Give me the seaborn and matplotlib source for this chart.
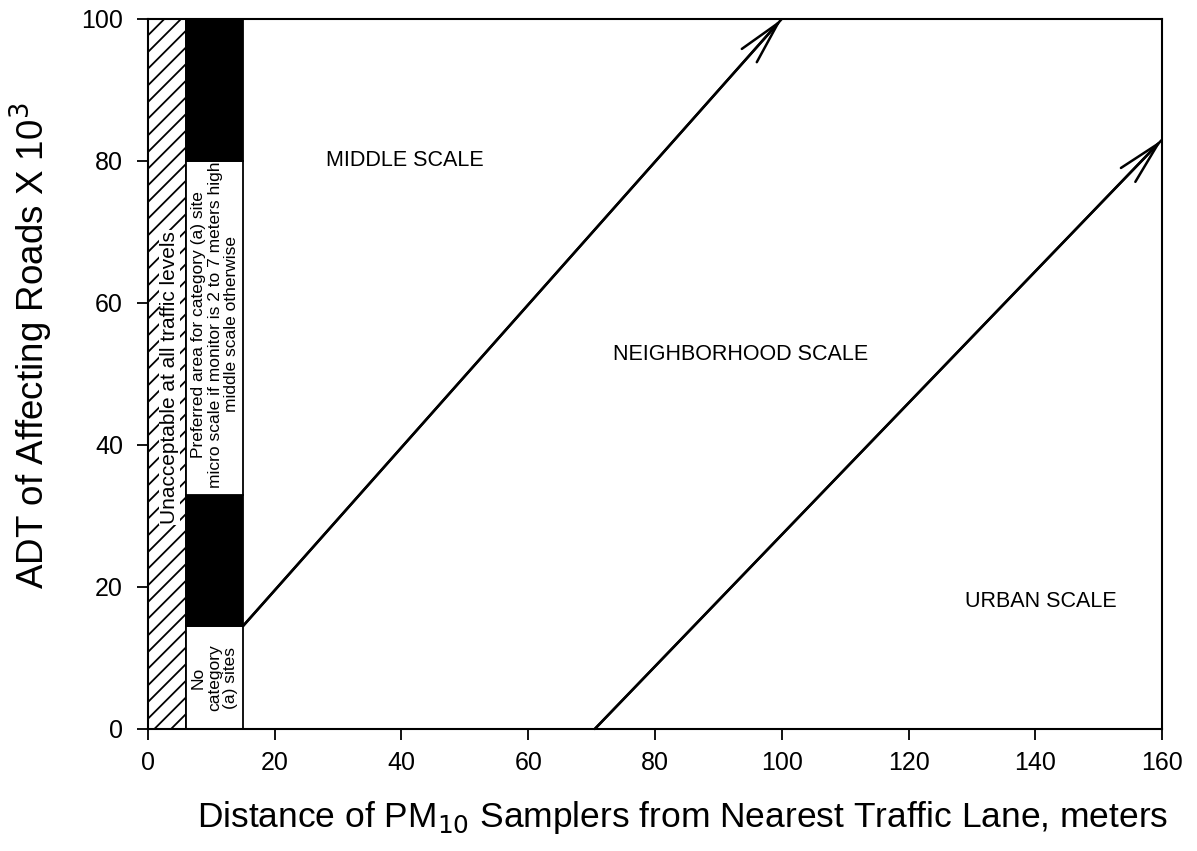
import matplotlib
matplotlib.use("Agg")
import matplotlib.pyplot as plt
import seaborn as sns
import pandas as pd

# Distances (m) and ADT (thousands) defining the siting zones
hatch_zone_x = [0]
hatch_zone_w = [6]
hatch_zone_top = [100]

column_x = 6
column_w = 9
column_bottoms = [0, 14.5, 33, 80]
column_heights = [14.5, 18.5, 47, 20]
column_colors = ["white", "black", "white", "black"]

# Boundary between middle and neighborhood scale
middle_bound_x = [15, 100]
middle_bound_y = [14.5, 100]
# Boundary between neighborhood and urban scale
urban_bound_x = [70.5, 160]
urban_bound_y = [0, 83]

x_ticks = [0, 20, 40, 60, 80, 100, 120, 140, 160]
y_ticks = [0, 20, 40, 60, 80, 100]

sns.set_theme(style="ticks")
plt.rcParams["font.family"] = ["Liberation Sans", "DejaVu Sans"]
plt.rcParams["hatch.linewidth"] = 1.3
plt.rcParams["text.color"] = "black"
plt.rcParams["axes.labelcolor"] = "black"

fig = plt.figure(figsize=(11.97, 8.51), dpi=100)
ax = fig.add_axes([0.1236, 0.1434, 0.8472, 0.8343])

# Zone too close to the road: hatched
ax.bar(hatch_zone_x, hatch_zone_top, width=hatch_zone_w, align="edge",
       fill=False, hatch="//", edgecolor="black", linewidth=1.3)

# Category (a) column
ax.bar([column_x] * len(column_heights), column_heights, width=column_w,
       bottom=column_bottoms, align="edge", color=column_colors,
       edgecolor="black", linewidth=1.3)

bounds = pd.DataFrame({
    "x": middle_bound_x + urban_bound_x,
    "y": middle_bound_y + urban_bound_y,
    "bound": ["middle"] * 2 + ["urban"] * 2,
})
sns.lineplot(data=bounds, x="x", y="y", units="bound", estimator=None,
             color="black", linewidth=1.8, ax=ax, legend=False)

for xs, ys in [(middle_bound_x, middle_bound_y), (urban_bound_x, urban_bound_y)]:
    ax.annotate("", xy=(xs[1], ys[1]), xytext=(xs[0], ys[0]),
                arrowprops=dict(arrowstyle="->,head_length=2.6,head_width=0.6",
                                color="black", lw=1.8, shrinkA=0, shrinkB=0))

ax.set_xlim(0, 160)
ax.set_ylim(0, 100)
ax.set_xticks(x_ticks)
ax.set_yticks(y_ticks)
ax.tick_params(axis="both", direction="out", length=8, width=1.3, colors="black",
               labelsize=18)
ax.tick_params(axis="y", pad=10)
ax.tick_params(axis="x", pad=8)
for s in ax.spines.values():
    s.set_linewidth(1.5)
    s.set_color("black")

ax.set_xlabel("Distance of PM$_{10}$ Samplers from Nearest Traffic Lane, meters",
              fontsize=25.5, color="black")
ax.xaxis.set_label_coords(0.527, -0.099)
ax.set_ylabel("ADT of Affecting Roads X 10$^{3}$", fontsize=26.5, color="black")
ax.yaxis.set_label_coords(-0.092, 0.54)

ax.text(40.5, 80, "MIDDLE SCALE", fontsize=15.5, ha="center", va="center",
        color="black")
ax.text(93.5, 52.7, "NEIGHBORHOOD SCALE", fontsize=15.5, ha="center",
        va="center", color="black")
ax.text(140.8, 18, "URBAN SCALE", fontsize=15.5, ha="center", va="center",
        color="black")

ax.text(3.4, 49.5, "Unacceptable at all traffic levels", rotation=90,
        fontsize=15, ha="center", va="center", color="black",
        bbox=dict(facecolor="white", edgecolor="none", pad=1))
ax.text(10.6, 57, "Preferred area for category (a) site\n"
        "micro scale if monitor is 2 to 7 meters high\nmiddle scale otherwise",
        rotation=90, fontsize=12.5, ha="center", va="center",
        linespacing=1.1, color="black")
ax.text(10.5, 7.2, "No\ncategory\n(a) sites", rotation=90, fontsize=12.5,
        ha="center", va="center", linespacing=1.1, color="black")

fig.savefig("out.png", dpi=100)
